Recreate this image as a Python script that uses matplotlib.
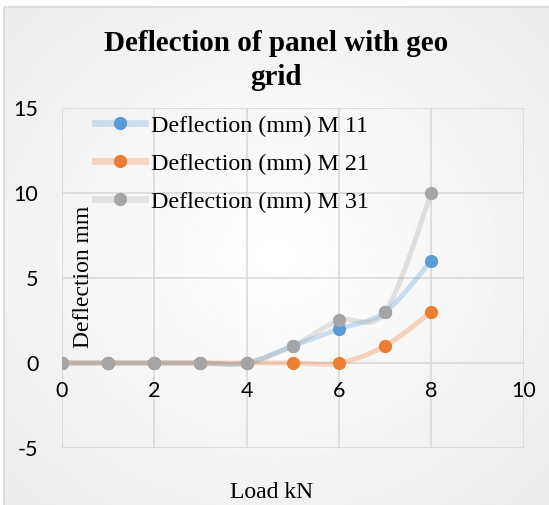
import numpy as np
import matplotlib
matplotlib.use("Agg")
import matplotlib.pyplot as plt
from matplotlib.path import Path
from matplotlib.patches import PathPatch, Rectangle
from matplotlib.lines import Line2D

# Data
load_kn = [0, 1, 2, 3, 4, 5, 6, 7, 8]
m11 = [0, 0, 0, 0, 0, 1, 2, 3, 6]
m21 = [0, 0, 0, 0, 0, 0, 0, 1, 3]
m31 = [0, 0, 0, 0, 0, 1, 2.5, 3, 10]
series_names = ["Deflection (mm) M 11", "Deflection (mm) M 21", "Deflection (mm) M 31"]
series_colors = ["#5b9bd5", "#ed7d31", "#a5a5a5"]
x_ticks = [0, 2, 4, 6, 8, 10]
y_ticks = [-5, 0, 5, 10, 15]

SERIF = "Liberation Serif"
SANS = "Lato"
plt.rcParams["axes.unicode_minus"] = False


# Excel style smoothed line as a bezier path through the points
def smooth_path(xs, ys):
    pts = np.column_stack([xs, ys]).astype(float)
    n = len(pts)
    verts = [pts[0]]
    codes = [Path.MOVETO]
    for i in range(n - 1):
        p0 = pts[max(i - 1, 0)]
        p1 = pts[i]
        p2 = pts[i + 1]
        p3 = pts[min(i + 2, n - 1)]
        c1 = p1 + (p2 - p0) / 6.0
        c2 = p2 - (p3 - p1) / 6.0
        verts += [c1, c2, p2]
        codes += [Path.CURVE4] * 3
    return Path(verts, codes)


fig = plt.figure(figsize=(5.49, 5.05), dpi=100)
fig.patch.set_facecolor("white")

# Chart area background: soft radial gradient with a thin border
bg = fig.add_axes([0, 0, 1, 1], zorder=-10)
bg.set_xlim(0, 549)
bg.set_ylim(505, 0)
bg.axis("off")
gx, gy = np.meshgrid(np.linspace(-1, 1, 300), np.linspace(-1, 1, 300))
r = np.clip(np.sqrt(gx ** 2 + gy ** 2) / 1.41, 0, 1)
shade = 1.0 - 0.075 * r
bg.imshow(shade, cmap="gray", vmin=0, vmax=1, extent=[4, 549, 505, 7], aspect="auto")
bg.add_patch(Rectangle((4, 7), 560, 510, fill=False, edgecolor="#d9d9d9", lw=1.2))

ax = fig.add_axes([0.1129, 0.1129, 0.8407, 0.6733])
ax.set_facecolor("none")
ax.set_xlim(0, 10)
ax.set_ylim(-5, 15)
ax.set_xticks(x_ticks)
ax.set_yticks(y_ticks)
ax.grid(True, color="#d9d9d9", lw=1.2)
ax.set_axisbelow(True)
for s in ax.spines.values():
    s.set_visible(False)
ax.spines["bottom"].set_position(("data", 0))
ax.tick_params(axis="both", length=0, labelsize=15.5, colors="black")
ax.tick_params(axis="x", pad=13)
ax.tick_params(axis="y", pad=17)
for lab in ax.get_xticklabels() + ax.get_yticklabels():
    lab.set_fontfamily(SANS)

for ys, col in zip([m11, m21, m31], series_colors):
    patch = PathPatch(smooth_path(load_kn, ys), facecolor="none", edgecolor=col,
                      lw=3.6, alpha=0.3, capstyle="round", joinstyle="round")
    ax.add_patch(patch)
    ax.plot(load_kn, ys, ls="", marker="o", ms=8.5, color=col, mec=col)

# legend lines are drawn pale, markers solid
leg_handles = []
for col in series_colors:
    leg_handles.append((Line2D([], [], color=col, lw=5, alpha=0.25),
                        Line2D([], [], color=col, lw=0, marker="o", ms=8.5)))
leg = ax.legend(leg_handles, series_names, loc="upper left",
                bbox_to_anchor=(0.0715, 0.98), frameon=False, borderpad=0,
                borderaxespad=0, handlelength=2.1, handletextpad=0.25,
                labelspacing=0.68, prop={"family": SERIF, "size": 17.3})

fig.text(0.503, 0.880, "Deflection of panel with geo\ngrid", ha="center", va="center",
         family=SERIF, weight="bold", fontsize=21, linespacing=1.3)
fig.text(0.153, 0.4515, "Deflection mm", rotation=90, ha="center", va="center",
         family=SERIF, fontsize=17)
fig.text(0.494, 0.0257, "Load kN", ha="center", va="center", family=SERIF, fontsize=17)

fig.savefig("out.png", dpi=100)
